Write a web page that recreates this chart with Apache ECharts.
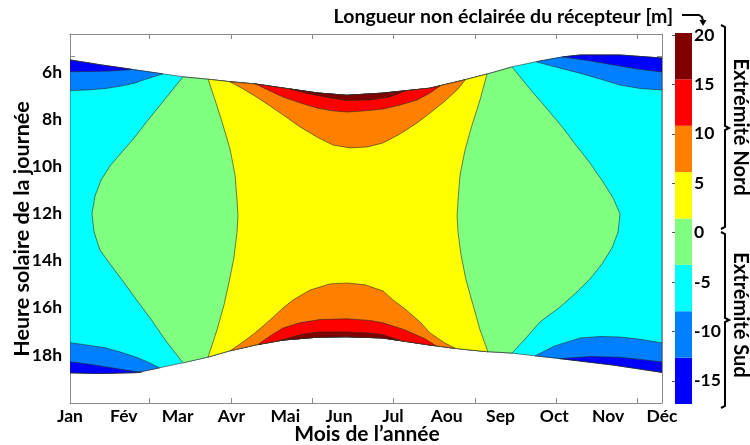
<!DOCTYPE html>
<html>
<head>
<meta charset="utf-8">
<script src="https://cdn.jsdelivr.net/npm/echarts@6/dist/echarts.min.js"></script>
<style>
  html, body { margin: 0; padding: 0; background: #ffffff; }
  #chart { width: 750px; height: 445px; }
</style>
</head>
<body>
<div id="chart"></div>
<script>
// ---- axis labels and ticks ----
const months = ['Jan', 'Fév', 'Mar', 'Avr', 'Mai', 'Jun', 'Jul', 'Aou', 'Sep', 'Oct', 'Nov', 'Déc'];
const dayTicks = [50, 100, 150, 200, 250, 300, 350];
const hourLabels = [6, 8, 10, 12, 14, 16, 18];
const hourTicks = [5.32, 7.22, 9.11, 11.01, 12.90, 14.80, 16.69, 18.59];
const barLabels = [-15, -10, -5, 0, 5, 10, 15, 20];

// ---- contour levels (m) and their fill colours ----
const levels = [-17.35, -12.66, -7.96, -3.27, 1.42, 6.12, 10.81, 15.51, 20.2];
const levelColors = ['#0000ff', '#0080ff', '#00ffff', '#80ff80', '#ffff00', '#ff8000', '#ff0000', '#800000'];

// ---- daylight limits [day of year, solar hour] ----
const sunrise = [[1, 5.49], [19, 5.69], [39, 5.89], [58, 6.08], [70, 6.20], [86, 6.31], [99, 6.41], [115, 6.51],
  [132, 6.68], [153, 6.89], [171, 6.99], [193, 6.90], [222, 6.69], [241, 6.38], [259, 6.06], [273, 5.78],
  [288, 5.56], [304, 5.36], [315, 5.28], [339, 5.28], [365, 5.41]];
const sunset = [[1, 18.76], [19, 18.79], [42, 18.75], [56, 18.55], [70, 18.34], [86, 18.09], [99, 17.83],
  [115, 17.58], [132, 17.37], [153, 17.25], [171, 17.23], [193, 17.28], [222, 17.58], [241, 17.75],
  [257, 17.86], [273, 17.93], [304, 18.17], [335, 18.43], [365, 18.74]];

// ---- contour lines [day of year, solar hour] ----
// level -12.66
const blueTopLeft = [[1, 5.99], [13, 5.98], [26, 5.96], [35, 5.92], [39, 5.89]];
const blueTopRight = [[304, 5.36], [321, 5.53], [335, 5.70], [351.5, 5.89], [365, 6.00]];
const blueBottomLeft = [[1, 18.29], [13, 18.40], [22.5, 18.50], [33, 18.62], [42, 18.71], [45, 18.74]];
const blueBottomRight = [[302, 18.16], [321, 18.07], [339, 18.10], [351.5, 18.19], [365, 18.30]];
// level -7.96
const midBlueTopLeft = [[1, 6.79], [12, 6.76], [23, 6.70], [33, 6.59], [41, 6.47], [47, 6.32], [53, 6.19], [58, 6.08]];
const midBlueTopRight = [[288, 5.58], [302, 5.83], [315, 6.06], [327, 6.30], [339, 6.55], [351.5, 6.70], [365, 6.76]];
const midBlueBottomLeft = [[1, 17.48], [13, 17.60], [22.5, 17.70], [33, 17.90], [43, 18.13], [50, 18.34], [56, 18.55]];
const midBlueBottomRight = [[287, 18.04], [299, 17.62], [315, 17.28], [327, 17.22], [339, 17.24], [351.5, 17.34], [365, 17.49]];
// level -3.27
const greenLeft = [[70.5, 6.21], [59.4, 7.15], [49, 8.04], [40.4, 8.80], [33, 9.39], [25.6, 9.99], [20.1, 10.58],
  [16.4, 11.26], [14.5, 12.02], [15.8, 12.79], [19.4, 13.55], [25.6, 14.14], [33, 14.82], [41, 15.58],
  [50.2, 16.43], [60, 17.41], [70.5, 18.34]];
const greenRight = [[272.8, 5.79], [283.8, 6.72], [294.9, 7.61], [304.1, 8.37], [312.1, 9.10], [320.7, 9.86],
  [328.7, 10.66], [334.9, 11.34], [339.2, 12.02], [338, 12.79], [334.3, 13.46], [328.1, 14.14], [320.7, 14.78],
  [312.1, 15.37], [302.3, 15.97], [290, 16.60], [281.4, 17.28], [272.8, 17.92]];
// level 1.42
const yellowLeft = [[85.9, 6.30], [90.2, 7.19], [94.5, 8.12], [99.4, 9.27], [102.5, 10.37], [103.7, 11.43],
  [104.3, 12.11], [103.7, 12.79], [101.8, 13.89], [98.8, 14.91], [95.7, 15.88], [91.4, 16.94], [85.9, 18.09]];
const yellowRight = [[257.4, 6.09], [253.1, 7.19], [248.2, 8.25], [243.9, 9.31], [240.8, 10.37], [239.6, 11.43],
  [239, 12.11], [239.6, 12.79], [241.4, 13.76], [244.5, 14.82], [248.8, 15.88], [253.1, 16.94], [258, 17.87]];
// level 6.12
const orangeTop = [[99.4, 6.42], [105.5, 6.64], [114.7, 7.02], [124, 7.44], [132, 7.82], [142.4, 8.33],
  [152.9, 8.76], [162.7, 9.10], [173.2, 9.22], [183.6, 9.18], [193.5, 9.01], [203.9, 8.63], [214.4, 8.16],
  [222.4, 7.74], [231.6, 7.23], [239.6, 6.72], [244, 6.33]];
const orangeBottom = [[99.4, 17.83], [107.4, 17.45], [114.7, 17.07], [124, 16.52], [132, 16.01], [138.1, 15.67],
  [148.6, 15.25], [160.9, 14.99], [171.3, 14.95], [182.4, 15.03], [193.5, 15.29], [199.6, 15.67], [207, 16.05],
  [216.2, 16.60], [222.4, 17.07], [230.4, 17.45], [237.7, 17.72]];
// level 10.81
const redTop = [[114.7, 6.50], [122.7, 6.76], [132, 7.06], [142.4, 7.31], [152.9, 7.53], [162.7, 7.65],
  [171.3, 7.70], [182.4, 7.65], [193.5, 7.57], [203.9, 7.40], [214.4, 7.19], [222.4, 6.89], [228.5, 6.60]];
const redBottom = [[116.6, 17.56], [124, 17.20], [132, 16.86], [142.4, 16.64], [154.7, 16.50], [171.3, 16.47],
  [185.5, 16.54], [193.5, 16.64], [207, 16.94], [219.3, 17.32], [226, 17.61]];
// level 15.51
const darkRedTop = [[136.3, 6.72], [146.7, 6.91], [160.9, 7.10], [171.3, 7.21], [185.5, 7.19], [197.8, 7.06], [207, 6.81]];
const darkRedBottom = [[130.1, 17.39], [142.4, 17.15], [152.9, 17.03], [171.3, 17.03], [185.5, 17.07], [193.5, 17.15], [203.9, 17.38]];

// ---- region outlines built from the contours and the daylight limits ----
function edgeSpan(edge, d0, d1, descending) {
  const lo = Math.min(d0, d1), hi = Math.max(d0, d1);
  const pts = edge.filter(p => p[0] >= lo && p[0] <= hi);
  return descending ? pts.slice().reverse() : pts;
}
// area enclosed by one contour and the daylight limit it ends on
function capRegion(curve, edge) {
  const a = curve[0][0], b = curve[curve.length - 1][0];
  return curve.concat(edgeSpan(edge, a, b, a < b));
}
// area between two contours running from sunrise to sunset
function lensRegion(left, right) {
  return left
    .concat(edgeSpan(sunset, left[left.length - 1][0], right[right.length - 1][0], false))
    .concat(right.slice().reverse())
    .concat(edgeSpan(sunrise, left[0][0], right[0][0], true));
}

const regions = [
  { pts: sunrise.concat(sunset.slice().reverse()), color: levelColors[2] },
  { pts: capRegion(midBlueTopLeft, sunrise), color: levelColors[1] },
  { pts: capRegion(midBlueTopRight, sunrise), color: levelColors[1] },
  { pts: capRegion(midBlueBottomLeft, sunset), color: levelColors[1] },
  { pts: capRegion(midBlueBottomRight, sunset), color: levelColors[1] },
  { pts: capRegion(blueTopLeft, sunrise), color: levelColors[0] },
  { pts: capRegion(blueTopRight, sunrise), color: levelColors[0] },
  { pts: capRegion(blueBottomLeft, sunset), color: levelColors[0] },
  { pts: capRegion(blueBottomRight, sunset), color: levelColors[0] },
  { pts: lensRegion(greenLeft, greenRight), color: levelColors[3] },
  { pts: lensRegion(yellowLeft, yellowRight), color: levelColors[4] },
  { pts: capRegion(orangeTop, sunrise), color: levelColors[5] },
  { pts: capRegion(orangeBottom, sunset), color: levelColors[5] },
  { pts: capRegion(redTop, sunrise), color: levelColors[6] },
  { pts: capRegion(redBottom, sunset), color: levelColors[6] },
  { pts: capRegion(darkRedTop, sunrise), color: levelColors[7] },
  { pts: capRegion(darkRedBottom, sunset), color: levelColors[7] }
];

const FONT = 'Lato';
const frameColor = '#8a8a8a';
const monthStep = 364 / 11;
const monthPos = months.map((m, i) => 1 + i * monthStep);

const chart = echarts.init(document.getElementById('chart'), null, { renderer: 'canvas' });

const frameAxis = {
  axisLine: { show: true, lineStyle: { color: frameColor, width: 1 } },
  splitLine: { show: false }
};

chart.setOption({
  animation: false,
  backgroundColor: '#ffffff',
  grid: [
    { left: 70, top: 34, width: 592, height: 369, containLabel: false },
    { left: 675, top: 33, width: 17, height: 371, containLabel: false }
  ],
  xAxis: [
    Object.assign({
      type: 'value', gridIndex: 0, min: 1, max: 365, position: 'bottom',
      axisTick: { show: true, inside: true, length: 5, customValues: dayTicks, lineStyle: { color: frameColor } },
      axisLabel: {
        show: true, customValues: monthPos, margin: 4,
        formatter: v => months[Math.round((v - 1) / monthStep)],
        color: '#000', fontFamily: FONT, fontWeight: 'bold', fontSize: 17.5
      }
    }, frameAxis),
    Object.assign({
      type: 'value', gridIndex: 0, min: 1, max: 365, position: 'top',
      axisTick: { show: true, inside: true, length: 5, customValues: dayTicks, lineStyle: { color: frameColor } },
      axisLabel: { show: false }
    }, frameAxis),
    { type: 'value', gridIndex: 1, min: 0, max: 1, show: false }
  ],
  yAxis: [
    Object.assign({
      type: 'value', gridIndex: 0, min: 4.39, max: 20.04, inverse: true, position: 'left',
      axisTick: { show: true, inside: true, length: 5, customValues: hourTicks, lineStyle: { color: frameColor } },
      axisLabel: {
        show: true, customValues: hourLabels, margin: 8,
        formatter: v => v + 'h',
        color: '#000', fontFamily: FONT, fontWeight: 'bold', fontSize: 17.5
      }
    }, frameAxis),
    Object.assign({
      type: 'value', gridIndex: 0, min: 4.39, max: 20.04, inverse: true, position: 'right',
      axisTick: { show: true, inside: true, length: 5, customValues: hourTicks, lineStyle: { color: frameColor } },
      axisLabel: { show: false }
    }, frameAxis),
    {
      type: 'value', gridIndex: 1, min: levels[0], max: levels[levels.length - 1], position: 'right',
      axisLine: { show: false },
      splitLine: { show: false },
      axisTick: { show: true, inside: true, length: 3, customValues: barLabels, lineStyle: { color: '#555' } },
      axisLabel: {
        show: true, customValues: barLabels, margin: 2,
        color: '#000', fontFamily: FONT, fontWeight: 'bold', fontSize: 17.5
      }
    }
  ],
  series: [
    {
      type: 'custom',
      xAxisIndex: 0, yAxisIndex: 0,
      clip: true,
      data: regions.map(r => [r.pts[0][0], r.pts[0][1]]),
      renderItem: function (params, api) {
        const r = regions[params.dataIndex];
        return {
          type: 'polygon',
          shape: { points: r.pts.map(p => api.coord(p)) },
          style: { fill: r.color, stroke: '#2a2a2a', lineWidth: 0.6 }
        };
      }
    },
    {
      type: 'custom',
      xAxisIndex: 2, yAxisIndex: 2,
      encode: { x: 0, y: [1, 2] },
      data: levels.slice(0, -1).map((lo, i) => [0, lo, levels[i + 1]]),
      renderItem: function (params, api) {
        const top = api.coord([0, api.value(2)]);
        const bottom = api.coord([1, api.value(1)]);
        return {
          type: 'rect',
          shape: { x: top[0], y: top[1], width: bottom[0] - top[0], height: bottom[1] - top[1] },
          style: { fill: levelColors[params.dataIndex] }
        };
      }
    }
  ],
  graphic: [
    { type: 'text', x: 673, y: 17, style: { text: 'Longueur non éclairée du récepteur [m]', align: 'right', verticalAlign: 'middle', font: 'bold 19.5px ' + FONT, fill: '#000' } },
    { type: 'polyline', shape: { points: [[682, 15], [699, 15], [702, 17], [703, 21]] }, style: { stroke: '#000', lineWidth: 2, fill: null } },
    { type: 'polygon', shape: { points: [[699.5, 20], [706.5, 20], [703, 26]] }, style: { fill: '#000' } },
    { type: 'polyline', shape: { points: [[721, 25], [725, 27], [725, 126], [729, 128], [725, 130], [725, 227], [721, 229]] }, style: { stroke: '#000', lineWidth: 2, fill: null } },
    { type: 'polyline', shape: { points: [[721, 232], [725, 234], [725, 318], [729, 320], [725, 322], [725, 406], [721, 408]] }, style: { stroke: '#000', lineWidth: 2, fill: null } },
    { type: 'text', x: 740, y: 127, rotation: -Math.PI / 2, style: { text: 'Extrémité Nord', align: 'center', verticalAlign: 'middle', font: 'bold 20px ' + FONT, fill: '#000' } },
    { type: 'text', x: 740, y: 315, rotation: -Math.PI / 2, style: { text: 'Extrémité Sud', align: 'center', verticalAlign: 'middle', font: 'bold 20px ' + FONT, fill: '#000' } },
    { type: 'text', x: 22, y: 229, rotation: Math.PI / 2, style: { text: 'Heure solaire de la journée', align: 'center', verticalAlign: 'middle', font: 'bold 21.5px ' + FONT, fill: '#000' } },
    { type: 'text', x: 367, y: 434, style: { text: 'Mois de l\u2019année', align: 'center', verticalAlign: 'middle', font: 'bold 21px ' + FONT, fill: '#000' } }
  ]
});
</script>
</body>
</html>
